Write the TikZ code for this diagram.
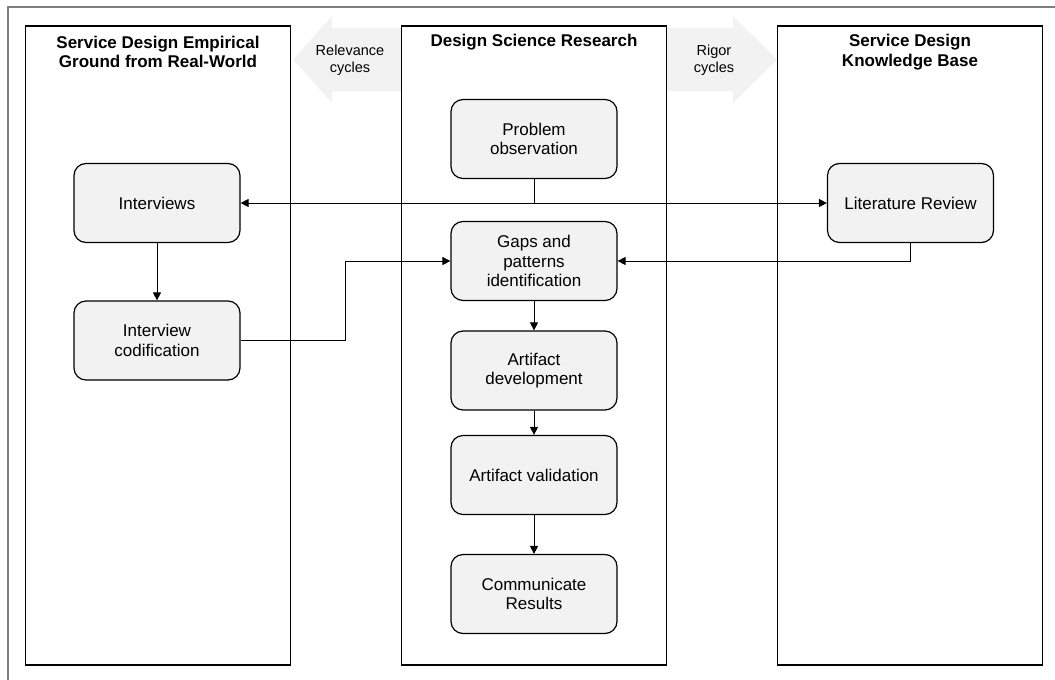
\documentclass[tikz,border=0pt]{standalone}
\usepackage{fontspec}
\setmainfont{Liberation Sans}
\usetikzlibrary{arrows.meta,calc}

\definecolor{boxfill}{HTML}{F2F2F2}
\definecolor{cyclefill}{HTML}{F2F2F2}
\definecolor{framegray}{HTML}{7F7F7F}

\begin{document}
\begin{tikzpicture}[x=1pt,y=-1pt,
  panel/.style={draw=black,line width=1.2pt,fill=white,minimum width=265pt,
    minimum height=639pt,inner sep=0pt},
  title/.style={font=\fontsize{17}{19.5}\selectfont\bfseries,align=center},
  stepbox/.style={draw=black,line width=1.2pt,fill=boxfill,rounded corners=12pt,
    minimum width=166pt,minimum height=79pt,inner sep=2pt,align=center,
    font=\fontsize{17}{19.5}\selectfont},
  cyclelabel/.style={font=\fontsize{14.5}{17}\selectfont,align=center},
  link/.style={draw=black,line width=0.9pt},
  arr/.style={link,-{Triangle[length=8pt,width=8pt]}},
  biarr/.style={link,{Triangle[length=8pt,width=8pt]}-{Triangle[length=8pt,width=8pt]}}
]
\useasboundingbox (0,0) rectangle (1055,680);

% outer frame (only its top and left edges fall inside the page)
\draw[framegray,line width=1.5pt] (8,690) -- (8,7) -- (1065,7);

% broad cycle arrows between the columns
\fill[cyclefill] (402,28) -- (332,28) -- (332,16) -- (293,59.5) -- (332,103)
  -- (332,91) -- (402,91) -- cycle;
\fill[cyclefill] (666,28) -- (733,28) -- (733,16) -- (777,59.5) -- (733,103)
  -- (733,91) -- (666,91) -- cycle;
\node[cyclelabel] (relv) at (350,60) {Relevance\\cycles};
\node[cyclelabel] (rigr) at (714,60) {Rigor\\cycles};

% the three columns
\node[panel] (empirical) at (158,345.5) {};
\node[panel] (dsr) at (534,345.5) {};
\node[panel] (kb) at (910,345.5) {};

\node[title] (emptitle) at (158,52) {Service Design Empirical\\Ground from Real-World};
\node[title] (dsrtitle) at (534,42) {Design Science Research};
\node[title] (kbtitle) at (910,52) {Service Design\\Knowledge Base};

% process steps
\node[stepbox] (prob) at (534,139) {Problem\\observation};
\node[stepbox] (gaps) at (534,261) {Gaps and\\patterns\\identification};
\node[stepbox] (dev)  at (534,370.5) {Artifact\\development};
\node[stepbox] (val)  at (534,475) {Artifact validation};
\node[stepbox] (comm) at (534,594) {Communicate\\Results};

\node[stepbox] (ivw) at (157,203) {Interviews};
\node[stepbox] (cod) at (157,340.5) {Interview\\codification};
\node[stepbox] (lit) at (910.5,203) {Literature Review};

% connectors
\draw[biarr] (ivw.east) -- (lit.west);
\coordinate (junc) at (prob.south |- ivw.east);
\draw[link] (prob.south) -- (junc);

\draw[arr] (ivw) -- (cod);

\coordinate (bend) at ($(cod.east)!0.5!(gaps.west)$);
\draw[arr] (cod.east) -- (bend |- cod.east) -- (bend |- gaps.west) -- (gaps.west);

\draw[arr] (lit.south) |- (gaps.east);

\draw[arr] (gaps) -- (dev);
\draw[arr] (dev) -- (val);
\draw[arr] (val) -- (comm);
\end{tikzpicture}
\end{document}
